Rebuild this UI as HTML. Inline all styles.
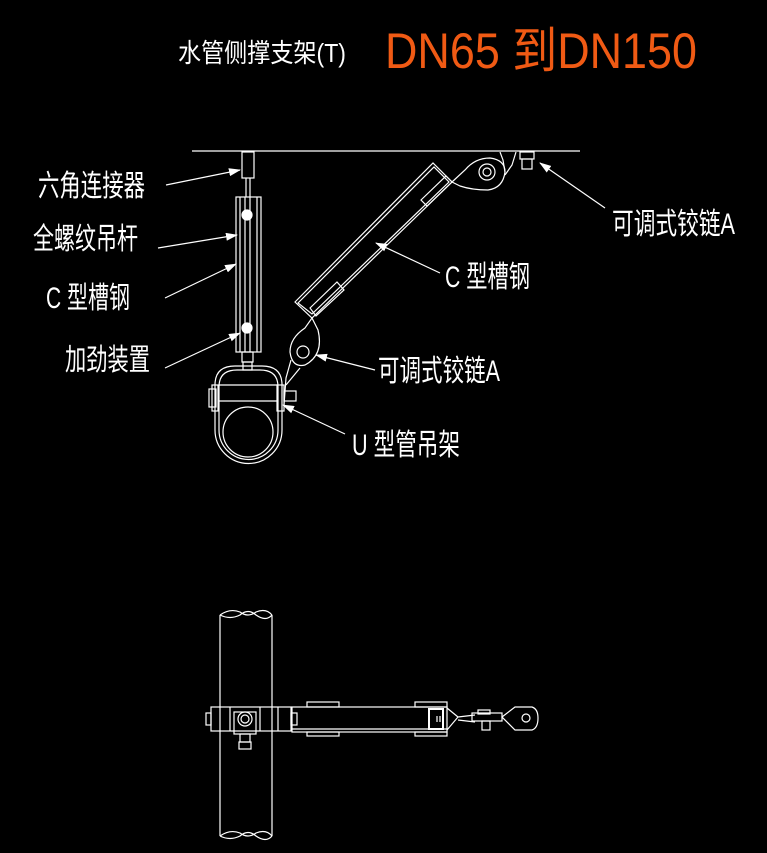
<!DOCTYPE html>
<html><head><meta charset="utf-8"><style>
html,body{margin:0;padding:0;background:#000;}
svg{display:block}
text{font-family:"Liberation Sans","Noto Sans CJK SC",sans-serif;fill:#fff;font-weight:normal}
</style></head><body>
<svg width="767" height="853" viewBox="0 0 767 853" xmlns="http://www.w3.org/2000/svg">
<defs>
<marker id="a" markerWidth="12" markerHeight="8" refX="11" refY="4" orient="auto" markerUnits="userSpaceOnUse">
<path d="M0,0 L12,4 L0,8 Z" fill="#fff"/></marker>
</defs>
<rect width="767" height="853" fill="#000"/>
<text x="178" y="62" font-size="26" textLength="168" lengthAdjust="spacingAndGlyphs">水管侧撑支架(T)</text>
<text x="385" y="68" font-size="50" textLength="312" lengthAdjust="spacingAndGlyphs" style="fill:#f05a14">DN65 到DN150</text>
<g font-size="30">
<text x="38" y="196" textLength="107" lengthAdjust="spacingAndGlyphs">六角连接器</text>
<text x="33" y="249" textLength="105" lengthAdjust="spacingAndGlyphs">全螺纹吊杆</text>
<text x="46" y="308" textLength="84" lengthAdjust="spacingAndGlyphs">C 型槽钢</text>
<text x="65" y="370" textLength="85" lengthAdjust="spacingAndGlyphs">加劲装置</text>
<text x="612" y="234" textLength="123" lengthAdjust="spacingAndGlyphs">可调式铰链A</text>
<text x="445" y="287" textLength="85" lengthAdjust="spacingAndGlyphs">C 型槽钢</text>
<text x="378" y="381" textLength="122" lengthAdjust="spacingAndGlyphs">可调式铰链A</text>
<text x="352" y="455" textLength="108" lengthAdjust="spacingAndGlyphs">U 型管吊架</text>
</g>
<g stroke="#fff" stroke-width="1.2" fill="none">
<line x1="166" y1="185" x2="240" y2="170" marker-end="url(#a)"/>
<line x1="158" y1="248" x2="237" y2="235" marker-end="url(#a)"/>
<line x1="165" y1="298" x2="236" y2="264" marker-end="url(#a)"/>
<line x1="165" y1="368" x2="240" y2="333" marker-end="url(#a)"/>
<line x1="605" y1="208" x2="540" y2="163" marker-end="url(#a)"/>
<line x1="440" y1="273" x2="376" y2="243" marker-end="url(#a)"/>
<line x1="375" y1="370" x2="316" y2="355" marker-end="url(#a)"/>
<line x1="345" y1="434" x2="283" y2="405" marker-end="url(#a)"/>
<line x1="192" y1="151" x2="580" y2="151"/>
<rect x="242" y="152" width="12" height="26"/>
<line x1="246" y1="178" x2="246" y2="197"/><line x1="250" y1="178" x2="250" y2="197"/>
<rect x="236" y="197" width="25" height="155"/>
<line x1="240" y1="197" x2="240" y2="352"/><line x1="257" y1="197" x2="257" y2="352"/>
<line x1="245" y1="197" x2="245" y2="352"/><line x1="250" y1="197" x2="250" y2="352"/>
<circle cx="247" cy="215" r="5" fill="#fff"/><circle cx="247" cy="328" r="5" fill="#fff"/>
<rect x="242" y="352" width="11" height="10"/>
<rect x="243" y="362" width="9" height="8"/>
<!-- U hanger -->
<path d="M215,430 L215,385 Q215,366 235,366 L262,366 Q282,366 282,385 L282,430 A33.5,33.5 0 0 1 215,430 Z"/>
<path d="M219,430 L219,387 Q219,370 237,370 L260,370 Q278,370 278,387 L278,430 A29.5,29.5 0 0 1 219,430 Z"/>
<circle cx="248" cy="432" r="25"/>
<line x1="219" y1="385" x2="278" y2="385"/><line x1="219" y1="401" x2="278" y2="401"/>
<rect x="209" y="389" width="7" height="18"/><rect x="212" y="385" width="6" height="26"/>
<rect x="277" y="385" width="7" height="26"/><rect x="284" y="391" width="12" height="10"/>
<polygon points="295,302 433,163 452,182 312,318"/>
<polygon points="298,303 434,167 449,182 312,314"/>
<polygon points="310,308 337,282 344,290 316,316"/>
<polygon points="421,200 446,176 452,182 427,206"/>
<path d="M312,318 L318,330 Q324,355 305,365 Q292,368 290,352 Q290,338 305,328 Z"/>
<circle cx="303" cy="352" r="6"/>
<path d="M291,360 L286,378 L284,405 M300,368 L286,385"/>
<path d="M452,182 L465,170 Q475,158 490,158 Q505,160 505,172 Q503,188 488,190 Q472,190 460,186 Z"/>
<circle cx="487" cy="172" r="8"/><circle cx="487" cy="172" r="4"/>
<path d="M500,152 L503,160 L505,172 M516,152 L512,165 L505,175"/>
<rect x="520" y="152" width="14" height="7"/><rect x="522" y="159" width="10" height="10"/>
<line x1="220" y1="615" x2="220" y2="836"/><line x1="272" y1="615" x2="272" y2="836"/>
<path d="M220,615 Q230,608 240,612 Q248,618 256,612 Q266,608 272,615"/>
<path d="M220,615 Q230,620 240,615 Q248,608 256,615 Q266,622 272,615"/>
<path d="M220,836 Q230,829 240,833 Q248,839 256,833 Q266,829 272,836"/>
<path d="M220,836 Q230,841 240,836 Q248,829 256,836 Q266,843 272,836"/>
<rect x="211" y="707" width="80" height="24"/>
<line x1="230" y1="707" x2="230" y2="731"/><line x1="260" y1="707" x2="260" y2="731"/>
<line x1="278" y1="707" x2="278" y2="731"/>
<rect x="206" y="713" width="5" height="12"/>
<circle cx="245" cy="719" r="7"/><circle cx="245" cy="719" r="4"/>
<rect x="234" y="712" width="22" height="22"/>
<rect x="240" y="734" width="10" height="8"/><rect x="239" y="742" width="12" height="7"/>
<rect x="291" y="713" width="6" height="12"/>
<rect x="292" y="707" width="155" height="25"/>
<line x1="292" y1="729" x2="447" y2="729"/>
<rect x="307" y="702" width="32" height="5"/><rect x="307" y="732" width="32" height="4"/>
<rect x="415" y="702" width="32" height="5"/><rect x="415" y="732" width="32" height="4"/>
<rect x="429" y="709" width="14" height="20" stroke-width="2"/>
<line x1="437" y1="716" x2="437" y2="722"/><line x1="440" y1="716" x2="440" y2="722"/>
<path d="M447,708 L458,717 L447,730 M458,717 L475,715 M458,720 L475,722"/>
<rect x="472" y="713" width="30" height="8"/><rect x="478" y="710" width="12" height="4"/>
<rect x="482" y="721" width="8" height="9"/>
<path d="M502,717 L515,707 L532,707 Q538,709 538,718 Q538,728 532,730 L515,730 Z"/>
<circle cx="526" cy="718" r="4"/>
</g>
</svg>
</body></html>
